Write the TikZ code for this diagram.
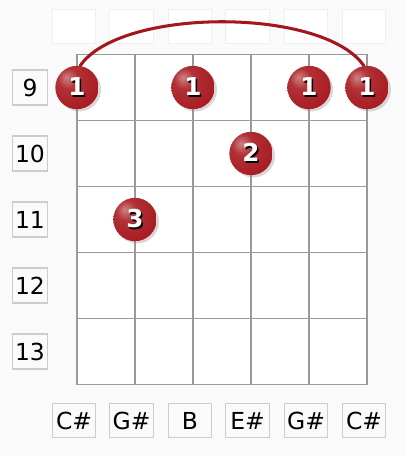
\documentclass[tikz,border=0pt]{standalone}
\usepackage{fontspec}
\setmainfont{DejaVu Sans}
\usetikzlibrary{shadows}
\definecolor{bgcol}{HTML}{FAFAFA}
\definecolor{gridcol}{HTML}{9A9A9A}
\definecolor{boxcol}{HTML}{CCCCCC}
\definecolor{topboxcol}{HTML}{F0F0F0}
\definecolor{dotred}{HTML}{A81A20}
\definecolor{barrecol}{HTML}{A3161C}
\pgfdeclareradialshading{fingerball}{\pgfpoint{-12bp}{12bp}}{%
  color(0bp)=(dotred!55!white); color(12bp)=(dotred!90!white);
  color(35bp)=(dotred); color(58bp)=(dotred!65!black); color(80bp)=(dotred!65!black)}
\newcommand{\dotnum}[1]{\makebox[0pt][l]{\hspace{1.2pt}\raisebox{-1.4pt}{\color{black}#1}}{\color{white}#1}}
\tikzset{
  labelbox/.style={draw=boxcol, line width=1pt, fill=bgcol, inner sep=0pt,
    minimum width=1.3cm, minimum height=1cm, font=\fontsize{20}{24}\selectfont},
  fretbox/.style={labelbox, minimum width=1.05cm, minimum height=1.05cm},
  emptybox/.style={draw=topboxcol, line width=1pt, fill=white,
    minimum width=1.3cm, minimum height=1cm},
  fingerdot/.style={circle, minimum size=1.3cm, inner sep=0pt, shading=fingerball,
    drop shadow={opacity=0.3, shadow xshift=2pt, shadow yshift=-2pt},
    font=\fontsize{21}{24}\bfseries\selectfont}
}
\begin{document}
\begin{tikzpicture}[x=0.03cm, y=-0.03cm]
% the page has the same size as the reference picture
\fill[bgcol] (0,0) rectangle (406,456);
\useasboundingbox (0,0) rectangle (406,456);

% empty boxes above the strings
\node[emptybox] (t1) at (74,26.5) {};
\node[emptybox] (t2) at (131.5,26.5) {};
\node[emptybox] (t3) at (190,26.5) {};
\node[emptybox] (t4) at (247.5,26.5) {};
\node[emptybox] (t5) at (306,26.5) {};
\node[emptybox] (t6) at (364,26.5) {};

% the fretboard
\fill[white] (77,54.5) rectangle (367,384.5);
\draw[gridcol, line width=1.6pt] (77,54.5) rectangle (367,384.5);
\draw[gridcol, line width=1.6pt]
  (135,54.5) -- (135,384.5)
  (193,54.5) -- (193,384.5)
  (251,54.5) -- (251,384.5)
  (309,54.5) -- (309,384.5)
  (77,120.5) -- (367,120.5)
  (77,186.5) -- (367,186.5)
  (77,252.5) -- (367,252.5)
  (77,318.5) -- (367,318.5);

% fret numbers
\node[fretbox] (fret9) at (30,87.5) {9};
\node[fretbox] (fret10) at (30,153.5) {10};
\node[fretbox] (fret11) at (30,219.5) {11};
\node[fretbox] (fret12) at (30,285.5) {12};
\node[fretbox] (fret13) at (30,351.5) {13};

% note names under the strings
\node[labelbox] (n1) at (74,420.5) {C\#};
\node[labelbox] (n2) at (131.5,420.5) {G\#};
\node[labelbox] (n3) at (190,420.5) {B};
\node[labelbox] (n4) at (247.5,420.5) {E\#};
\node[labelbox] (n5) at (306,420.5) {G\#};
\node[labelbox] (n6) at (364,420.5) {C\#};

% fingers, first the barre so the dots lie on top of it
\coordinate (barreL) at (80,66);
\coordinate (barreR) at (364,66);
\draw[barrecol, line width=2.6pt, line cap=round]
  (barreL) .. controls (120,7) and (324,7) .. (barreR);
\node[fingerdot] (b1) at (77,87.5) {\dotnum{1}};
\node[fingerdot] (b3) at (193,87.5) {\dotnum{1}};
\node[fingerdot] (b5) at (309,87.5) {\dotnum{1}};
\node[fingerdot] (b6) at (367,87.5) {\dotnum{1}};
\node[fingerdot] (b4) at (251,153.5) {\dotnum{2}};
\node[fingerdot] (b2) at (135,219.5) {\dotnum{3}};
\end{tikzpicture}
\end{document}
